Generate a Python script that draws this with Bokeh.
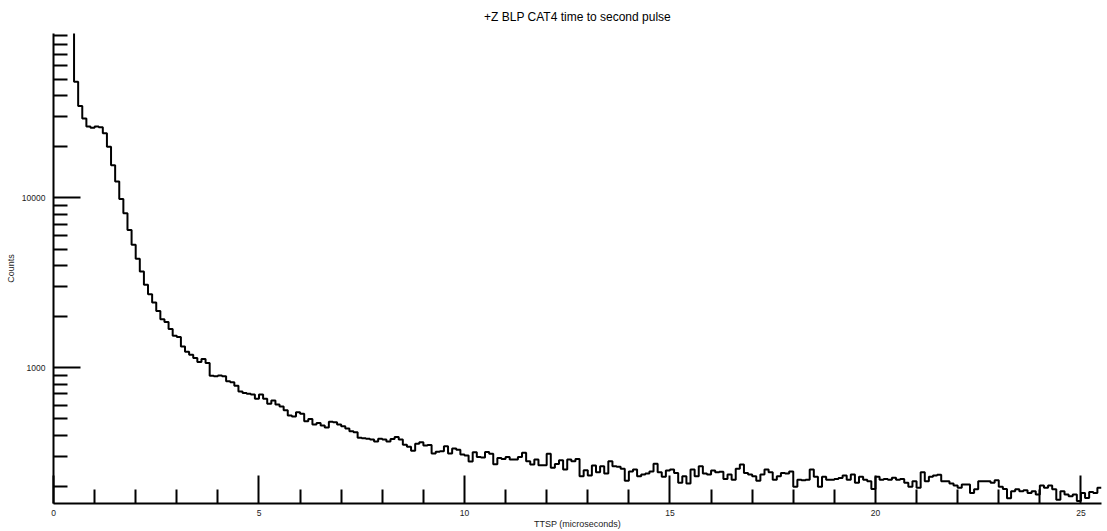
import numpy as np
from bokeh.plotting import figure
from bokeh.models import FixedTicker, Range1d, PrintfTickFormatter
from bokeh.embed import file_html
from bokeh.resources import INLINE

# Histogram: bins of 0.1 us starting at 0.4 us (first bin is off-scale above the top)
bin_start = 0.4
bin_width = 0.1
counts = [
    150000, 48300, 34800, 29400, 26300, 25900,                       # 0.4-0.9
    26300, 26100, 24000, 20000, 15600, 12500, 9870, 8130, 6480, 5290,  # 1.x
    4380, 3690, 3080, 2710, 2420, 2160, 1930, 1860, 1690, 1540,        # 2.x
    1515, 1335, 1242, 1192, 1141, 1080, 1125, 1066, 897, 889,          # 3.x
    901, 889, 831, 820, 784, 725, 710, 703, 694, 657,                  # 4.x
    694, 657, 614, 640, 606, 590, 561, 522, 515, 546,                  # 5.x
    536, 483, 499, 462, 473, 456, 445, 481, 477, 462,                  # 6.x
    452, 438, 422, 416, 387, 384, 382, 377, 368, 382,                  # 7.x
    377, 368, 380, 391, 377, 352, 342, 324, 357, 364,                  # 8.x
    348, 351, 312, 320, 322, 344, 312, 334, 329, 308,                  # 9.x
    304, 280, 318, 298, 296, 319, 311, 270, 294, 290,                  # 10.x
    298, 288, 288, 298, 315, 281, 269, 288, 266, 266,                  # 11.x
    311, 257, 271, 285, 251, 288, 281, 290, 229, 249,                  # 12.x
    232, 265, 242, 263, 238, 281, 263, 261, 254, 216,                  # 13.x
    245, 251, 229, 235, 238, 245, 272, 242, 228, 248,                  # 14.x
    251, 240, 210, 229, 208, 251, 229, 263, 238, 235,                  # 15.x
    248, 242, 244, 221, 235, 219, 254, 269, 240, 235,                  # 16.x
    229, 216, 235, 251, 242, 219, 229, 240, 238, 245,                  # 17.x
    199, 219, 217, 219, 251, 228, 199, 228, 219, 219,                  # 18.x
    221, 224, 232, 219, 235, 210, 228, 219, 214, 193,                  # 19.x
    228, 219, 221, 219, 225, 219, 221, 210, 199, 214,                  # 20.x
    196, 242, 214, 228, 232, 234, 214, 214, 208, 202,                  # 21.x
    196, 205, 205, 183, 192, 214, 214, 214, 210, 217,                  # 22.x
    199, 193, 170, 187, 192, 187, 190, 183, 187, 179,                  # 23.x
    202, 196, 202, 192, 167, 187, 179, 175, 179, 164,                  # 24.x
    183, 171, 185, 183, 196,                                           # 25.0-25.4
]

x_major = [0, 5, 10, 15, 20, 25]
x_minor = [i for i in range(1, 26) if i % 5 != 0]
y_major = [1000, 10000]
y_minor = [m * d for d in (100, 1000, 10000) for m in range(2, 10)]

title_text = "+Z BLP CAT4 time to second pulse"
x_label = "TTSP (microseconds)"
y_label = "Counts"

edges = bin_start + bin_width * np.arange(len(counts) + 1)
ys = counts + [counts[-1]]

FONT = "Liberation Sans"

p = figure(width=1107, height=531, y_axis_type="log",
           x_range=Range1d(0, 25.5), y_range=Range1d(158.5, 93000),
           output_backend="svg", toolbar_location=None,
           min_border_left=53, min_border_right=6,
           min_border_top=33, min_border_bottom=27)

p.title.text = title_text
p.title.align = "center"
p.title.vertical_align = "top"
p.title.standoff = 16
p.title.text_font = FONT
p.title.text_font_size = "12px"
p.title.text_font_style = "normal"
p.title.text_color = "black"

p.outline_line_color = None
p.xgrid.visible = False
p.ygrid.visible = False
p.background_fill_color = "white"

p.step(edges, ys, mode="after", line_color="black", line_width=2)

p.xaxis.ticker = FixedTicker(ticks=x_major, minor_ticks=x_minor)
p.yaxis.ticker = FixedTicker(ticks=y_major, minor_ticks=y_minor)
p.yaxis.formatter = PrintfTickFormatter(format="%d")

for ax in (p.xaxis[0], p.yaxis[0]):
    ax.axis_line_width = 2
    ax.axis_line_color = "black"
    ax.major_tick_line_width = 2
    ax.minor_tick_line_width = 2
    ax.major_tick_line_color = "black"
    ax.minor_tick_line_color = "black"
    ax.major_tick_out = 0
    ax.minor_tick_out = 0
    ax.minor_tick_in = 14
    ax.major_label_text_font = FONT
    ax.major_label_text_font_size = "8.5px"
    ax.major_label_text_color = "#222222"
    ax.axis_label_text_font = FONT
    ax.axis_label_text_font_size = "9px"
    ax.axis_label_text_font_style = "normal"
    ax.axis_label_text_color = "#222222"

p.xaxis.major_tick_in = 28
p.yaxis.major_tick_in = 27
p.xaxis.axis_label = x_label
p.yaxis.axis_label = y_label
p.xaxis.major_label_standoff = 6
p.xaxis.axis_label_standoff = 0
p.yaxis.major_label_standoff = 8
p.yaxis.axis_label_standoff = 3

open("out.html", "w").write(file_html(p, INLINE))
